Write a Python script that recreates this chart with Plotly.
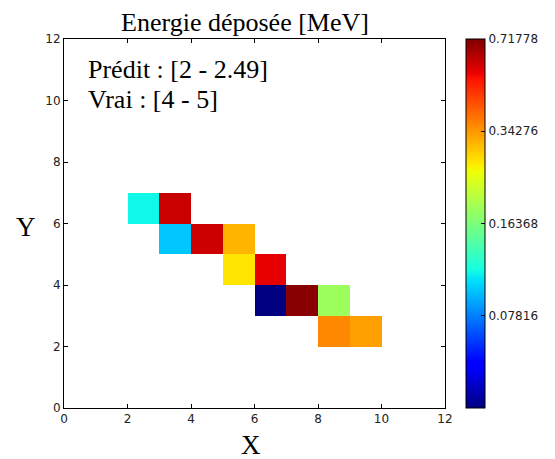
import numpy as np
import plotly.graph_objects as go

# Cell data (lower-left corner of each 1x1 cell) and deposited energy [MeV]
cell_x = [2, 3, 3, 4, 5, 5, 6, 6, 7, 8, 8, 9]
cell_y = [6, 6, 5, 5, 5, 4, 4, 3, 3, 3, 2, 2]
energy = [0.1108, 0.5968, 0.0964, 0.5900, 0.3130, 0.2678, 0.5527, 0.0373, 0.7020, 0.1837, 0.3594, 0.3335]

cbar_ticks = [0.07816, 0.16368, 0.34276, 0.71778]
cbar_min = 0.03732
cbar_max = 0.71778
axis_ticks = [0, 2, 4, 6, 8, 10, 12]
grid_size = 12

title_text = "Energie déposée [MeV]"
pred_text = "Prédit : [2 - 2.49]"
true_text = "Vrai : [4 - 5]"

# matplotlib 'jet' colormap as a plotly colorscale
_r = [(0, 0), (0.35, 0), (0.66, 1), (0.89, 1), (1, 0.5)]
_g = [(0, 0), (0.125, 0), (0.375, 1), (0.64, 1), (0.91, 0), (1, 0)]
_b = [(0, 0.5), (0.11, 1), (0.34, 1), (0.65, 0), (1, 0)]
stops = sorted(set([p for seg in (_r, _g, _b) for p, _ in seg]))
def _interp(seg, t):
    xs = [p for p, _ in seg]; vs = [v for _, v in seg]
    return float(np.interp(t, xs, vs))
jet = [[t, "rgb(%d,%d,%d)" % (round(255 * _interp(_r, t)), round(255 * _interp(_g, t)), round(255 * _interp(_b, t)))] for t in stops]

z = [[None] * grid_size for _ in range(grid_size)]
for cx, cy, e in zip(cell_x, cell_y, energy):
    z[cy][cx] = np.log10(e)

edges = list(range(grid_size + 1))

# page has an 8px body margin: figure is 547x451 placed at (8, 8)
W, H = 547, 451
L, R, T, B = 55.5, 106.5, 31, 51
PW, PH = W - L - R, H - T - B  # 385 x 369

def px_to_paper(px, py):
    # px, py: page pixel coordinates
    fx, fy = px - 8, py - 8
    return (fx - L) / PW, (H - B - fy) / PH

fig = go.Figure()
fig.add_trace(go.Heatmap(
    x=edges, y=edges, z=z,
    colorscale=jet,
    zmin=np.log10(cbar_min), zmax=np.log10(cbar_max),
    hoverongaps=False,
    colorbar=dict(
        tickvals=[np.log10(v) for v in cbar_ticks],
        ticktext=["%.5f" % v for v in cbar_ticks],
        x=px_to_paper(470, 0)[0], xanchor="left", xref="paper",
        y=0.5, yanchor="middle", len=1.0, lenmode="fraction",
        thickness=19, thicknessmode="pixels",
        outlinewidth=1, outlinecolor="black",
        ticks="inside", ticklen=4, tickcolor="black",
        tickfont=dict(family="DejaVu Sans", size=12, color="#222"),
        ypad=0, xpad=0,
    ),
))

axis_common = dict(
    tickvals=axis_ticks, ticks="inside", ticklen=4, tickcolor="black",
    showline=True, linecolor="black", linewidth=1, mirror="ticks",
    showgrid=False, zeroline=False, range=[0, 12],
    tickfont=dict(family="DejaVu Sans", size=12, color="#222"),
)
fig.update_xaxes(**axis_common)
fig.update_yaxes(**axis_common)

serif = "Liberation Serif"
xl = px_to_paper(252, 445)
yl = px_to_paper(25, 227)
p1 = px_to_paper(86, 69.5)
p2 = px_to_paper(86, 99.5)
fig.update_layout(
    width=W, height=H,
    margin=dict(l=L, r=R, t=T, b=B),
    paper_bgcolor="white", plot_bgcolor="white",
    title=dict(text=title_text, x=(245 - 8) / W, xanchor="center", xref="container",
               y=1 - (22 - 8) / H, yanchor="middle", yref="container",
               font=dict(family=serif, size=26, color="black")),
    annotations=[
        dict(text=pred_text, x=p1[0], y=p1[1], xref="paper", yref="paper", xanchor="left", yanchor="middle",
             showarrow=False, font=dict(family=serif, size=26, color="black")),
        dict(text=true_text, x=p2[0], y=p2[1], xref="paper", yref="paper", xanchor="left", yanchor="middle",
             showarrow=False, font=dict(family=serif, size=26, color="black")),
        dict(text="X", x=xl[0], y=xl[1], xref="paper", yref="paper", xanchor="center", yanchor="middle",
             showarrow=False, font=dict(family=serif, size=27, color="black")),
        dict(text="Y", x=yl[0], y=yl[1], xref="paper", yref="paper", xanchor="center", yanchor="middle",
             showarrow=False, font=dict(family=serif, size=27, color="black")),
    ],
)

fig.write_html("out.html")
